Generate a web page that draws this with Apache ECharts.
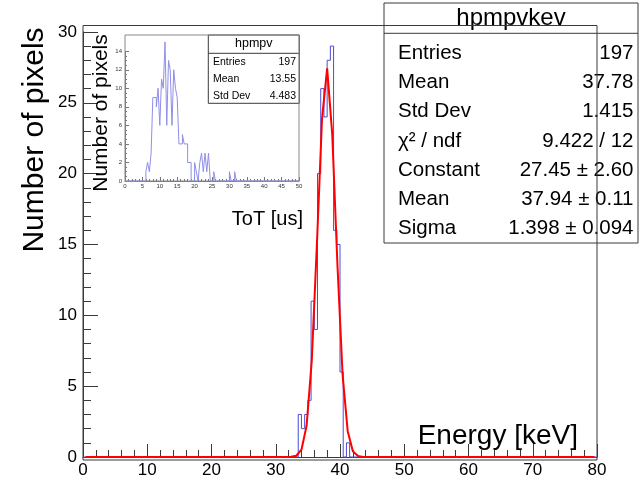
<!DOCTYPE html>
<html>
<head>
<meta charset="utf-8">
<script src="https://cdn.jsdelivr.net/npm/echarts@6/dist/echarts.min.js"></script>
<style>
  html, body { margin: 0; padding: 0; background: #ffffff; }
  #chart { width: 640px; height: 479px; }
</style>
</head>
<body>
<div id="chart"></div>
<script>
// Energy spectrum, 0.5 keV bins, first non-empty bin starts at 33.5 keV
const energyBinStart = 33.5;
const energyBinWidth = 0.5;
const energyCounts = [3, 2, 3, 4, 11, 9, 20, 26, 24, 28, 29, 16, 15, 6, 0, 1];
const energyRange = [0, 80];
const energyTicks = [0, 10, 20, 30, 40, 50, 60, 70, 80];
const countTicks = [0, 5, 10, 15, 20, 25, 30];

// Gaussian fit result
const fitConstant = 27.45;
const fitMean = 37.94;
const fitSigma = 1.398;
const fitNpx = 100;

// ToT distribution, 0.5 us bins, first non-empty bin starts at 6.0 us
const totBinStart = 6.0;
const totBinWidth = 0.5;
const totCounts = [1, 2, 1, 3, 9, 9, 8, 10, 6, 11, 10, 15, 6, 13, 12, 6, 12, 10, 9, 4,
                   4, 5, 4, 4, 2, 2, 0, 0, 2, 1, 0, 2, 3, 1, 3, 1, 3, 0, 0, 1,
                   0, 0, 0, 0, 0, 0, 0, 0, 1, 0, 0, 1];
const totRange = [0, 50];

// Statistics boxes
const mainStatsTitle = 'hpmpvkev';
const mainStatsLabels = ['Entries', 'Mean', 'Std Dev', 'χ² / ndf', 'Constant', 'Mean', 'Sigma'];
const mainStatsValues = ['197', '37.78', '1.415', '9.422 / 12', '27.45 ± 2.60', '37.94 ± 0.11', '1.398 ± 0.094'];
const insetStatsTitle = 'hpmpv';
const insetStatsLabels = ['Entries', 'Mean', 'Std Dev'];
const insetStatsValues = ['197', '13.55', '4.483'];

const FONT = '"Liberation Sans", Arial, Helvetica, sans-serif';

// Histogram outline as a step polyline
function histOutline(start, width, counts, range) {
  const pts = [[range[0], 0], [start, 0]];
  counts.forEach((c, i) => {
    const lo = start + i * width;
    pts.push([lo, c], [lo + width, c]);
  });
  const end = start + counts.length * width;
  pts.push([end, 0], [range[1], 0]);
  return pts;
}

// Fit function sampled at the centres of fitNpx bins over the axis range
function gaussCurve() {
  const pts = [];
  const dx = (energyRange[1] - energyRange[0]) / fitNpx;
  for (let i = 0; i < fitNpx; i++) {
    const x = energyRange[0] + (i + 0.5) * dx;
    const t = (x - fitMean) / fitSigma;
    pts.push([x, fitConstant * Math.exp(-0.5 * t * t)]);
  }
  return pts;
}

// Plot frames
const mainFrame = { x0: 83, x1: 597, y0: 25.5, y1: 460 };
const insetFrame = { x0: 125, x1: 299, y0: 35, y1: 181 };
const mainTop = mainFrame.y1 - 30 * (mainFrame.y1 - mainFrame.y0) / 30.45;
const insetTop = insetFrame.y1 - 14 * (insetFrame.y1 - insetFrame.y0) / 15.75;

// Statistics box: title row and a list of label / value rows
function statsBox(b, title, labels, values) {
  const children = [];
  children.push({ type: 'rect', shape: { x: b.x, y: b.y, width: b.w, height: b.h },
    style: { fill: '#ffffff', stroke: '#3a3a3a', lineWidth: 1 } });
  children.push({ type: 'line', shape: { x1: b.x, y1: b.y + b.titleH, x2: b.x + b.w, y2: b.y + b.titleH },
    style: { stroke: '#3a3a3a', lineWidth: 1 } });
  children.push({ type: 'text', x: b.x + b.w / 2, y: b.titleY,
    style: { text: title, font: b.titleSize + 'px ' + FONT, fill: '#000', align: 'center', verticalAlign: 'middle' } });
  labels.forEach((lab, i) => {
    const cy = b.rowY + b.rowH * i;
    children.push({ type: 'text', x: b.labelX, y: cy,
      style: { text: lab, font: b.rowSize + 'px ' + FONT, fill: '#000', align: 'left', verticalAlign: 'middle' } });
    children.push({ type: 'text', x: b.valueX, y: cy,
      style: { text: values[i], font: b.rowSize + 'px ' + FONT, fill: '#000', align: 'right', verticalAlign: 'middle' } });
  });
  return { type: 'group', children, z: 10 };
}

const chart = echarts.init(document.getElementById('chart'), null, { renderer: 'canvas' });

const axisColor = '#3a3a3a';

chart.setOption({
  animation: false,
  backgroundColor: '#ffffff',
  grid: [
    { left: mainFrame.x0, right: 640 - mainFrame.x1, top: mainTop, bottom: 479 - mainFrame.y1 },
    { left: insetFrame.x0, right: 640 - insetFrame.x1, top: insetTop, bottom: 479 - insetFrame.y1 }
  ],
  xAxis: [
    {
      gridIndex: 0, type: 'value', min: energyRange[0], max: energyRange[1], interval: 10,
      axisLine: { lineStyle: { color: axisColor, width: 1 } },
      axisTick: { inside: true, length: 13, lineStyle: { color: axisColor } },
      minorTick: { show: true, splitNumber: 5, length: 7, lineStyle: { color: axisColor } },
      splitLine: { show: false },
      axisLabel: { fontSize: 17, fontFamily: FONT, color: '#000', margin: 5,
        formatter: v => energyTicks.includes(v) ? String(v) : '' }
    },
    {
      gridIndex: 1, type: 'value', min: totRange[0], max: totRange[1], interval: 5,
      axisLine: { lineStyle: { color: '#777', width: 1 } },
      axisTick: { inside: true, length: 4, lineStyle: { color: '#777' } },
      minorTick: { show: true, splitNumber: 5, length: 2, lineStyle: { color: '#777' } },
      splitLine: { show: false },
      axisLabel: { fontSize: 6, fontFamily: FONT, color: '#333', margin: 2 }
    }
  ],
  yAxis: [
    {
      gridIndex: 0, type: 'value', min: 0, max: 30, interval: 5,
      axisLine: { show: true, lineStyle: { color: axisColor, width: 1 } },
      axisTick: { show: true, inside: true, length: 15, lineStyle: { color: axisColor } },
      minorTick: { show: true, splitNumber: 5, length: 8, lineStyle: { color: axisColor } },
      splitLine: { show: false },
      axisLabel: { fontSize: 17, fontFamily: FONT, color: '#000', margin: 6,
        formatter: v => countTicks.includes(v) ? String(v) : '' }
    },
    {
      gridIndex: 1, type: 'value', min: 0, max: 14, interval: 2,
      axisLine: { show: true, lineStyle: { color: '#777', width: 1 } },
      axisTick: { show: true, inside: true, length: 4, lineStyle: { color: '#777' } },
      minorTick: { show: true, splitNumber: 4, length: 2, lineStyle: { color: '#777' } },
      splitLine: { show: false },
      axisLabel: { fontSize: 6, fontFamily: FONT, color: '#333', margin: 3 }
    }
  ],
  series: [
    {
      type: 'line', xAxisIndex: 0, yAxisIndex: 0, showSymbol: false, symbol: 'none',
      data: histOutline(energyBinStart, energyBinWidth, energyCounts, energyRange),
      lineStyle: { color: '#4b4bdc', width: 1 }, z: 2, clip: false
    },
    {
      type: 'line', xAxisIndex: 0, yAxisIndex: 0, showSymbol: false, symbol: 'none',
      data: gaussCurve(),
      lineStyle: { color: '#ff0000', width: 2 }, z: 3, clip: false
    },
    {
      type: 'line', xAxisIndex: 1, yAxisIndex: 1, showSymbol: false, symbol: 'none',
      data: histOutline(totBinStart, totBinWidth, totCounts, totRange),
      lineStyle: { color: '#8f8fe8', width: 1 }, z: 2, clip: false
    }
  ],
  graphic: [
    // plot frames
    { type: 'rect', shape: { x: mainFrame.x0, y: mainFrame.y0, width: mainFrame.x1 - mainFrame.x0, height: mainFrame.y1 - mainFrame.y0 },
      style: { fill: 'none', stroke: axisColor, lineWidth: 1 }, z: 1 },
    { type: 'rect', shape: { x: insetFrame.x0, y: insetFrame.y0, width: insetFrame.x1 - insetFrame.x0, height: insetFrame.y1 - insetFrame.y0 },
      style: { fill: 'none', stroke: '#888', lineWidth: 1 }, z: 1 },
    // axis titles
    { type: 'text', x: 578, y: 436, style: { text: 'Energy [keV]', font: '28px ' + FONT, fill: '#000', align: 'right', verticalAlign: 'middle' }, z: 5 },
    { type: 'text', x: 35, y: 140, rotation: Math.PI / 2, style: { text: 'Number of pixels', font: '30px ' + FONT, fill: '#000', align: 'center', verticalAlign: 'middle' }, z: 5 },
    { type: 'text', x: 303, y: 219, style: { text: 'ToT [us]', font: '20px ' + FONT, fill: '#000', align: 'right', verticalAlign: 'middle' }, z: 5 },
    { type: 'text', x: 101, y: 113, rotation: Math.PI / 2, style: { text: 'Number of pixels', font: '21px ' + FONT, fill: '#000', align: 'center', verticalAlign: 'middle' }, z: 5 },
    // statistics boxes
    statsBox({ x: 384, y: 3, w: 254, h: 240, titleH: 30.3, titleY: 18.5, titleSize: 24,
               rowY: 53, rowH: 29.3, rowSize: 20.5, labelX: 398, valueX: 633.5 },
             mainStatsTitle, mainStatsLabels, mainStatsValues),
    statsBox({ x: 208.3, y: 35, w: 91, h: 68.3, titleH: 18.3, titleY: 44, titleSize: 12.5,
               rowY: 62.3, rowH: 16.9, rowSize: 10.5, labelX: 213, valueX: 296 },
             insetStatsTitle, insetStatsLabels, insetStatsValues)
  ]
});
</script>
</body>
</html>
